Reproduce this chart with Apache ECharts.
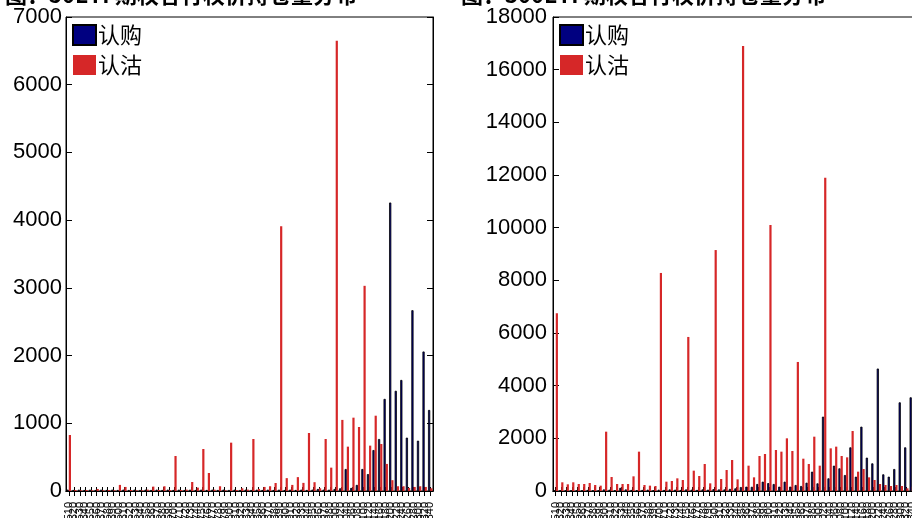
<!DOCTYPE html>
<html><head><meta charset="utf-8">
<script src="https://cdn.jsdelivr.net/npm/echarts@6/dist/echarts.min.js"></script>
<style>html,body{margin:0;padding:0;background:#fff}#c{width:912px;height:518px}</style>
</head><body><div id="c"></div>
<script>
// Left panel: strikes
const strikesA = ["2510","2520","2530","2540","2550","2560","2570","2580","2590","2600","2610","2620","2630","2640","2650","2660","2670","2680","2690","2700","2710","2720","2730","2740","2750","2760","2770","2780","2790","2800","2810","2820","2830","2840","2850","2860","2870","2880","2890","2900","2910","2920","2930","2940","2950","2960","2970","2980","3000","3020","3040","3060","3080","3100","3120","3140","3160","3180","3200","3220","3240","3260","3280","3300","3320","3340"];
const callA = [20,15,20,15,20,15,20,15,20,15,20,15,20,15,20,15,20,15,20,15,20,15,20,15,20,15,20,15,20,15,20,15,20,15,20,15,20,15,20,15,20,15,20,15,20,30,20,20,30,40,325,45,90,325,250,605,768,1360,4260,1480,1640,788,2670,743,2060,1197];
const putA = [827,15,10,15,10,30,10,15,10,90,60,15,10,10,20,65,15,70,15,517,15,20,133,50,620,266,20,70,10,714,15,40,20,768,30,60,70,118,3910,190,90,205,120,857,130,40,768,345,6650,1050,655,1083,945,3030,670,1112,694,400,160,70,70,45,60,70,60,40];
// Right panel
const strikesB = ["3510","3520","3530","3540","3550","3560","3570","3580","3590","3600","3610","3620","3630","3640","3650","3660","3670","3680","3690","3700","3710","3720","3730","3740","3750","3760","3770","3780","3790","3800","3810","3820","3830","3840","3850","3860","3870","3880","3890","3900","3910","3920","3930","3940","3950","3960","3970","3980","4000","4020","4040","4060","4080","4100","4120","4140","4160","4180","4200","4220","4240","4260","4280","4300","4320","4340","4360"];
const callB = [20,30,20,30,20,30,40,30,20,60,50,30,120,60,40,30,40,50,30,50,40,60,50,40,60,50,40,60,50,70,60,60,80,100,150,165,160,266,354,300,266,165,354,165,228,190,316,734,291,2823,481,962,861,607,1658,544,2443,1266,1050,4650,633,544,835,3367,1658,3557,1500];
const putB = [6750,330,254,330,266,266,304,228,203,2253,532,266,266,266,557,1494,228,203,190,8280,354,380,481,418,5850,772,570,1025,291,9150,456,797,1177,443,16900,962,519,1329,1405,10100,1557,1494,2000,1519,4900,1227,1025,2063,962,11900,1620,1684,1329,1278,2278,734,835,519,418,266,228,190,228,190,101,165,150];
const titleA = "图：50ETF期权各行权价持仓量分布";
const titleB = "图：300ETF期权各行权价持仓量分布";

const chart = echarts.init(document.getElementById('c'), null, {renderer:'canvas'});
const NAVY = '#000080', RED = '#d62728';
const numFont = 'Liberation Sans, Arial, sans-serif';
const cjk = 'Noto Sans CJK SC';
function xAxes(idx, data){
  return [
    {type:'category', gridIndex:idx, data:data, position:'bottom',
     axisLine:{show:true,lineStyle:{color:'#000',width:1}},
     axisTick:{show:true,inside:true,alignWithLabel:true,length:4,interval:0,lineStyle:{color:'#000'}},
     axisLabel:{show:true,interval:0,rotate:90,fontSize:11,color:'#000',margin:11,fontFamily:numFont,hideOverlap:false},
     splitLine:{show:false}},
    {type:'category', gridIndex:idx, data:data, position:'top',
     axisLine:{show:true,lineStyle:{color:'#000',width:1}},
     axisTick:{show:true,inside:true,alignWithLabel:true,length:5,interval:0,lineStyle:{color:'#000'}},
     axisLabel:{show:false}, splitLine:{show:false}}
  ];
}
function yAxes(idx, max, step, margin){
  return [
    {type:'value', gridIndex:idx, min:0, max:max, interval:step, position:'left',
     axisLine:{show:true,lineStyle:{color:'#000',width:1}},
     axisTick:{show:true,inside:true,length:6,lineStyle:{color:'#000'}},
     axisLabel:{fontSize:22,color:'#000',fontFamily:numFont,margin:margin,formatter:function(v){return String(v);}},
     splitLine:{show:false}},
    {type:'value', gridIndex:idx, min:0, max:max, interval:step, position:'right',
     axisLine:{show:true,lineStyle:{color:'#000',width:1}},
     axisTick:{show:true,inside:true,length:6,lineStyle:{color:'#000'}},
     axisLabel:{show:false}, splitLine:{show:false}}
  ];
}
const callStyle = {color:NAVY, borderColor:'#000', borderWidth:0.8};
const putStyle = {color:RED};
const legendBase = {orient:'vertical', top:24, itemWidth:23, itemHeight:20, itemGap:8, icon:'rect', padding:0,
     textStyle:{fontFamily:cjk,fontSize:22,color:'#000',padding:[0,0,0,-3]}, data:['认购','认沽']};
chart.setOption({
  animation:false,
  backgroundColor:'#fff',
  title:[
    {text:titleA, left:0, top:-21, textStyle:{fontFamily:cjk,fontSize:22,fontWeight:'bold',color:'#000'}},
    {text:titleB, left:456, top:-21, textStyle:{fontFamily:cjk,fontSize:22,fontWeight:'bold',color:'#000'}}
  ],
  legend:[
    Object.assign({}, legendBase, {left:72}),
    Object.assign({}, legendBase, {left:559})
  ],
  grid:[
    {left:66, top:17, width:367, height:474, show:true, borderColor:'#000', borderWidth:1, backgroundColor:'transparent', containLabel:false, outerBoundsMode:'none'},
    {left:553, top:17, width:367, height:474, show:true, borderColor:'#000', borderWidth:1, backgroundColor:'transparent', containLabel:false, outerBoundsMode:'none'}
  ],
  xAxis:[...xAxes(0,strikesA), ...xAxes(1,strikesB)],
  yAxis:[...yAxes(0,7000,1000,4), ...yAxes(1,18000,2000,6)],
  series:[
    {name:'认购', type:'bar', xAxisIndex:0, yAxisIndex:0, data:callA, barWidth:2.2, barGap:'0%', itemStyle:callStyle},
    {name:'认沽', type:'bar', xAxisIndex:0, yAxisIndex:0, data:putA, barWidth:2.2, barGap:'0%', itemStyle:putStyle},
    {name:'认购', type:'bar', xAxisIndex:2, yAxisIndex:2, data:callB, barWidth:2.2, barGap:'0%', itemStyle:callStyle},
    {name:'认沽', type:'bar', xAxisIndex:2, yAxisIndex:2, data:putB, barWidth:2.2, barGap:'0%', itemStyle:putStyle}
  ]
});
</script></body></html>
